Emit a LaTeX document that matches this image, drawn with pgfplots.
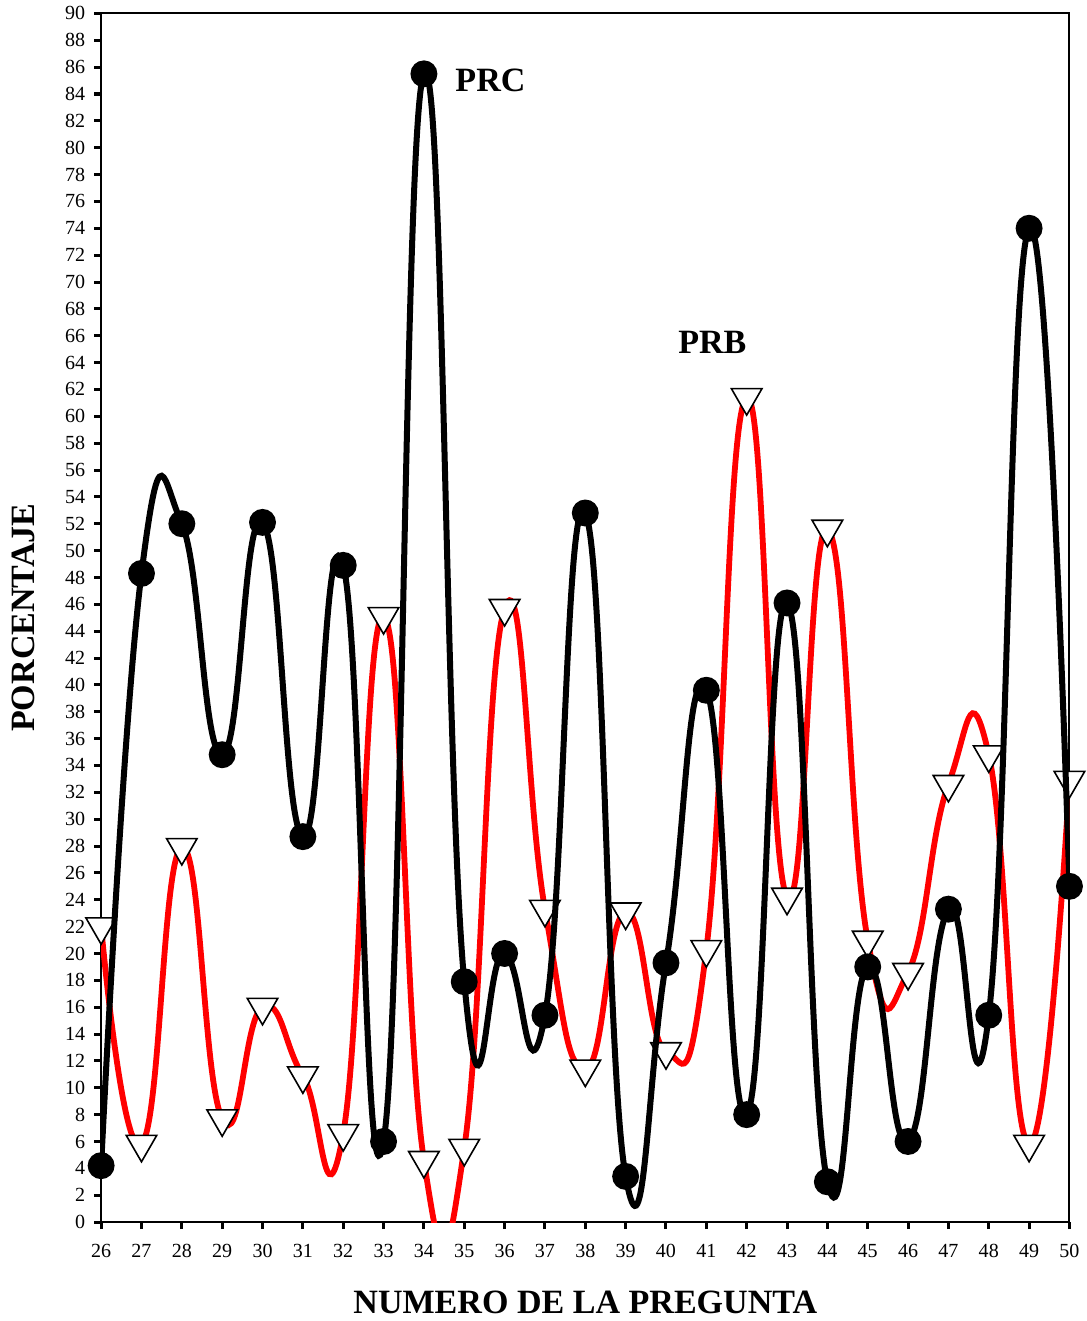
\documentclass[border=0pt]{standalone}
\usepackage{pgfplots}
\pgfplotsset{compat=1.18}
\usepackage{fontspec}
\setmainfont{Liberation Serif}
\begin{document}
\begin{tikzpicture}
\begin{axis}[
  name=ax,
  scale only axis,
  width=483.5pt, height=603.5pt,
  xmin=26, xmax=50, ymin=0, ymax=90,
  xtick={26,...,50}, ytick={0,2,...,90},
  tick align=outside, xtick pos=bottom, ytick pos=left,
  major tick length=3.5pt,
  every tick/.style={black, line width=1.5pt},
  axis line style={line width=1pt},
  /pgf/number format/assume math mode=true,
  ticklabel style={font=\fontsize{10}{12}\selectfont},
  xticklabel style={yshift=-4pt},
  yticklabel style={xshift=-1pt},
  xlabel={\textbf{NUMERO DE LA PREGUNTA}},
  ylabel={\textbf{PORCENTAJE}},
  label style={font=\fontsize{17}{20}\selectfont},
  xlabel style={yshift=-10pt},
  ylabel style={yshift=8pt},
  clip mode=individual,
]
\addplot[red, line width=2.9pt, smooth, tension=0.85, mark=triangle*, mark options={rotate=180, fill=white, draw=black, line width=0.8pt, scale=4.4}] coordinates {
(26,22.0) (27,5.8) (28,27.9) (29,7.7) (30,16.0) (31,10.9) (32,6.6) (33,45.1)
(34,4.6) (35,5.5) (36,45.7) (37,23.3) (38,11.4) (39,23.1) (40,12.7) (41,20.3)
(42,61.4) (43,24.2) (44,51.6) (45,21.0) (46,18.6) (47,32.6) (48,34.8) (49,5.8) (50,32.9)};
\addplot[black, line width=3pt, smooth, tension=0.85, mark=*, mark options={fill=black, draw=black, scale=2.6}] coordinates {
(26,4.2) (27,48.3) (28,52.0) (29,34.8) (30,52.1) (31,28.7) (32,48.9) (33,6.0)
(34,85.5) (35,17.9) (36,20.0) (37,15.4) (38,52.8) (39,3.4) (40,19.3) (41,39.6)
(42,8.0) (43,46.1) (44,3.0) (45,19.0) (46,6.0) (47,23.3) (48,15.4) (49,74.0) (50,25.0)};
\node[font=\fontsize{17}{20}\selectfont\bfseries] at (axis cs:35.65,85.0) {PRC};
\node[font=\fontsize{17}{20}\selectfont\bfseries] at (axis cs:41.15,65.5) {PRB};
\end{axis}
\path (ax.south west) ++(-50.5pt,0pt);
\end{tikzpicture}
\end{document}
